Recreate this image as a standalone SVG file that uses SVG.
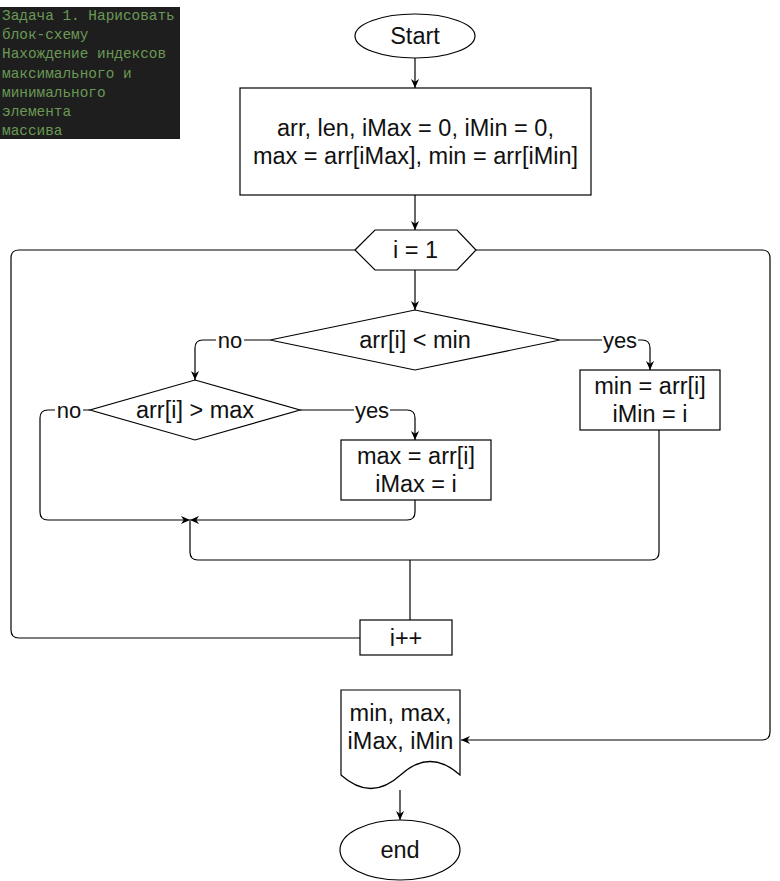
<svg xmlns="http://www.w3.org/2000/svg" width="780" height="881" viewBox="0 0 780 881">
<style>
.shape{fill:#fff;stroke:#000;stroke-width:1.2}
.t{font-family:"Liberation Sans",Arial,sans-serif;font-size:23.5px;fill:#111;text-anchor:middle}
.lbl{font-family:"Liberation Sans",Arial,sans-serif;font-size:22px;fill:#111;text-anchor:middle}
.edge{fill:none;stroke:#000;stroke-width:1.2}
.arr{marker-end:url(#ah)}
.code{font-family:"Liberation Mono","DejaVu Sans Mono",monospace;font-size:14.4px;fill:#6a9955}
</style>
<defs>
<marker id="ah" viewBox="0 0 10 10" refX="10" refY="5" markerWidth="9" markerHeight="9" markerUnits="userSpaceOnUse" orient="auto">
<path d="M0,0.5 L10,5 L0,9.5 L3,5 z" fill="#000"/>
</marker>
</defs>
<rect width="780" height="881" fill="#fff"/>

<g id="note">
<rect x="0" y="7" width="180" height="132" fill="#1e1e1e"/>
<text class="code" x="2" y="20">Задача 1. Нарисовать</text>
<text class="code" x="2" y="39.2">блок-схему</text>
<text class="code" x="2" y="58.4">Нахождение индексов</text>
<text class="code" x="2" y="77.6">максимального и</text>
<text class="code" x="2" y="96.8">минимального</text>
<text class="code" x="2" y="116">элемента</text>
<text class="code" x="2" y="135.2">массива</text>
</g>

<g id="connectors">
<path class="edge arr" d="M415,58 V88"/>
<path class="edge arr" d="M415,195 V230"/>
<path class="edge arr" d="M415,270 V310"/>
<path class="edge arr" d="M270,340 H203 Q195,340 195,348 V380"/>
<path class="edge arr" d="M560,340 H642 Q650,340 650,348 V370"/>
<path class="edge arr" d="M90,410 H48 Q40,410 40,418 V512 Q40,520 48,520 H190"/>
<path class="edge arr" d="M300,410 H407 Q415,410 415,418 V440"/>
<path class="edge arr" d="M415,500 V512 Q415,520 407,520 H190"/>
<path class="edge" d="M659,430 V552 Q659,560 651,560 H198 Q190,560 190,552 V521"/>
<path class="edge" d="M410,560 V620"/>
<path class="edge" d="M360,638 H19 Q11,638 11,630 V258 Q11,250 19,250 H355"/>
<path class="edge arr" d="M476,250 H762 Q770,250 770,258 V732 Q770,740 762,740 H461"/>
<path class="edge arr" d="M400,790 V820"/>
<g id="labels">
<rect x="216" y="328" width="28" height="24" fill="#fff"/>
<text class="lbl" x="230" y="348">no</text>
<rect x="55" y="398" width="28" height="24" fill="#fff"/>
<text class="lbl" x="69" y="418">no</text>
<rect x="602" y="328" width="36" height="24" fill="#fff"/>
<text class="lbl" x="620" y="348">yes</text>
<rect x="354" y="398" width="36" height="24" fill="#fff"/>
<text class="lbl" x="372" y="418">yes</text>
</g>
</g>

<g id="start">
<ellipse class="shape" cx="415" cy="36" rx="60" ry="22"/>
<text class="t" x="415" y="44">Start</text>
</g>

<g id="init">
<rect class="shape" x="240" y="88" width="351" height="107"/>
<text class="t" x="415.5" y="136">arr, len, iMax = 0, iMin = 0,</text>
<text class="t" x="415.5" y="164">max = arr[iMax], min = arr[iMin]</text>
</g>

<g id="loop">
<polygon class="shape" points="355,250 375,230 457,230 476,250 457,270 375,270"/>
<text class="t" x="415.5" y="258">i = 1</text>
</g>

<g id="cond-min">
<polygon class="shape" points="415,310 560,340 415,370 270,340"/>
<text class="t" x="415" y="348">arr[i] &lt; min</text>
</g>

<g id="cond-max">
<polygon class="shape" points="195,380 300,410 195,440 90,410"/>
<text class="t" x="195" y="418">arr[i] &gt; max</text>
</g>

<g id="set-min">
<rect class="shape" x="580" y="370" width="140" height="60"/>
<text class="t" x="650" y="394">min = arr[i]</text>
<text class="t" x="650" y="422">iMin = i</text>
</g>

<g id="set-max">
<rect class="shape" x="341" y="440" width="150" height="60"/>
<text class="t" x="416" y="464">max = arr[i]</text>
<text class="t" x="416" y="492">iMax = i</text>
</g>

<g id="inc">
<rect class="shape" x="360" y="620" width="92" height="35"/>
<text class="t" x="406" y="646">i++</text>
</g>

<g id="output">
<path class="shape" d="M341,690 H460 V775 Q430,748 400.5,775 Q371,802 341,775 Z"/>
<text class="t" x="400.5" y="721">min, max,</text>
<text class="t" x="400.5" y="749">iMax, iMin</text>
</g>

<g id="end">
<ellipse class="shape" cx="400" cy="850" rx="60" ry="30"/>
<text class="t" x="400" y="858">end</text>
</g>
</svg>
